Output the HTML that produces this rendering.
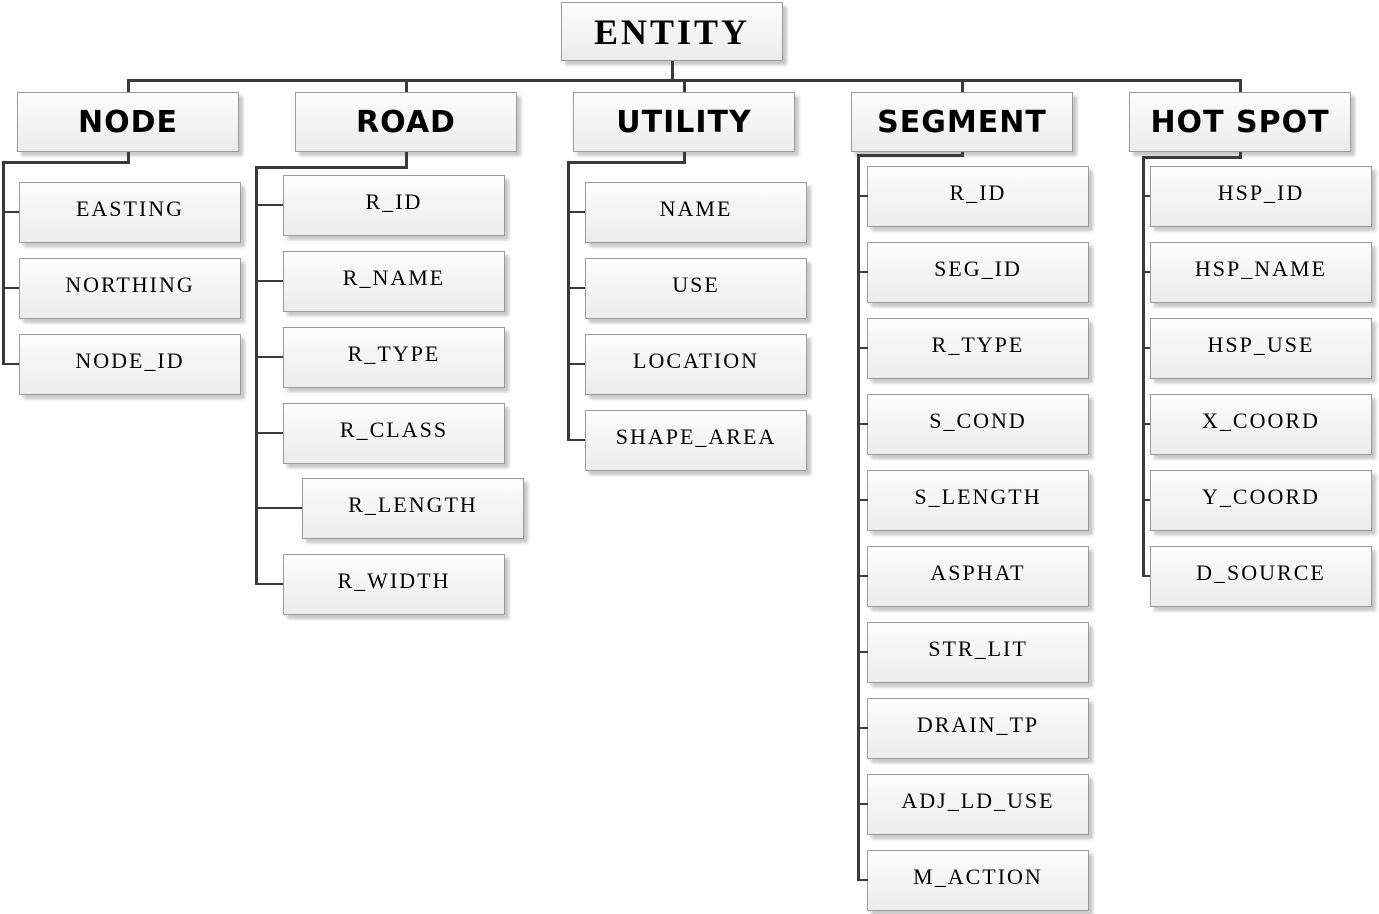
<!DOCTYPE html>
<html><head><style>
body{margin:0;width:1379px;height:914px;background:#fff;position:relative;overflow:hidden}
.b{position:absolute;box-sizing:border-box;border:1.5px solid #9a9a9a;background:linear-gradient(#fdfdfd,#ececec);box-shadow:4px 4px 3px #c8c8c8;display:flex;align-items:center;justify-content:center;padding-bottom:8px;white-space:nowrap}
.h{font:bold 30px "DejaVu Sans",sans-serif;letter-spacing:1px;height:60px;width:222px;padding-bottom:0}
.c{font:22px "Liberation Serif",serif;letter-spacing:2px;height:61px;width:222px}
.l{position:absolute;background:#3a3a3a}
</style></head><body>
<div class="b" style="left:561px;top:2px;width:222px;height:59px;font:bold 36px 'Liberation Serif',serif;letter-spacing:3px;padding:0">ENTITY</div>
<div class="l" style="left:671px;top:61px;width:3px;height:20px"></div>
<div class="l" style="left:127px;top:79px;width:1115px;height:3px"></div>
<div class="l" style="left:127px;top:79px;width:3px;height:13px"></div>
<div class="l" style="left:405px;top:79px;width:3px;height:13px"></div>
<div class="l" style="left:683px;top:79px;width:3px;height:13px"></div>
<div class="l" style="left:961px;top:79px;width:3px;height:13px"></div>
<div class="l" style="left:1239px;top:79px;width:3px;height:13px"></div>
<div class="b h" style="left:17px;top:92px">NODE</div>
<div class="b h" style="left:295px;top:92px">ROAD</div>
<div class="b h" style="left:573px;top:92px">UTILITY</div>
<div class="b h" style="left:851px;top:92px">SEGMENT</div>
<div class="b h" style="left:1129px;top:92px">HOT SPOT</div>
<!-- NODE -->
<div class="l" style="left:127px;top:152px;width:3px;height:11px"></div>
<div class="l" style="left:2px;top:161px;width:128px;height:3px"></div>
<div class="l" style="left:2px;top:161px;width:3px;height:204px"></div>
<div class="l" style="left:2px;top:211px;width:18px;height:2px"></div>
<div class="l" style="left:2px;top:287px;width:18px;height:2px"></div>
<div class="l" style="left:2px;top:363px;width:18px;height:2px"></div>
<div class="b c" style="left:19px;top:182px">EASTING</div>
<div class="b c" style="left:19px;top:258px">NORTHING</div>
<div class="b c" style="left:19px;top:334px">NODE_ID</div>
<!-- ROAD -->
<div class="l" style="left:405px;top:152px;width:3px;height:16px"></div>
<div class="l" style="left:255px;top:166px;width:153px;height:3px"></div>
<div class="l" style="left:255px;top:166px;width:3px;height:419px"></div>
<div class="l" style="left:255px;top:204px;width:29px;height:2px"></div>
<div class="l" style="left:255px;top:280px;width:29px;height:2px"></div>
<div class="l" style="left:255px;top:356px;width:29px;height:2px"></div>
<div class="l" style="left:255px;top:432px;width:29px;height:2px"></div>
<div class="l" style="left:255px;top:507px;width:48px;height:2px"></div>
<div class="l" style="left:255px;top:583px;width:29px;height:2px"></div>
<div class="b c" style="left:283px;top:175px">R_ID</div>
<div class="b c" style="left:283px;top:251px">R_NAME</div>
<div class="b c" style="left:283px;top:327px">R_TYPE</div>
<div class="b c" style="left:283px;top:403px">R_CLASS</div>
<div class="b c" style="left:302px;top:478px">R_LENGTH</div>
<div class="b c" style="left:283px;top:554px">R_WIDTH</div>
<!-- UTILITY -->
<div class="l" style="left:683px;top:152px;width:3px;height:11px"></div>
<div class="l" style="left:567px;top:161px;width:119px;height:3px"></div>
<div class="l" style="left:567px;top:161px;width:3px;height:280px"></div>
<div class="l" style="left:567px;top:211px;width:19px;height:2px"></div>
<div class="l" style="left:567px;top:287px;width:19px;height:2px"></div>
<div class="l" style="left:567px;top:363px;width:19px;height:2px"></div>
<div class="l" style="left:567px;top:439px;width:19px;height:2px"></div>
<div class="b c" style="left:585px;top:182px">NAME</div>
<div class="b c" style="left:585px;top:258px">USE</div>
<div class="b c" style="left:585px;top:334px">LOCATION</div>
<div class="b c" style="left:585px;top:410px">SHAPE_AREA</div>
<!-- SEGMENT -->
<div class="l" style="left:961px;top:152px;width:3px;height:4px"></div>
<div class="l" style="left:857px;top:154px;width:107px;height:3px"></div>
<div class="l" style="left:857px;top:154px;width:3px;height:727px"></div>
<div class="b c" style="left:867px;top:166px">R_ID</div>
<div class="b c" style="left:867px;top:242px">SEG_ID</div>
<div class="b c" style="left:867px;top:318px">R_TYPE</div>
<div class="b c" style="left:867px;top:394px">S_COND</div>
<div class="b c" style="left:867px;top:470px">S_LENGTH</div>
<div class="b c" style="left:867px;top:546px">ASPHAT</div>
<div class="b c" style="left:867px;top:622px">STR_LIT</div>
<div class="b c" style="left:867px;top:698px">DRAIN_TP</div>
<div class="b c" style="left:867px;top:774px">ADJ_LD_USE</div>
<div class="b c" style="left:867px;top:850px">M_ACTION</div>
<div class="l" style="left:857px;top:195px;width:11px;height:2px"></div>
<div class="l" style="left:857px;top:271px;width:11px;height:2px"></div>
<div class="l" style="left:857px;top:347px;width:11px;height:2px"></div>
<div class="l" style="left:857px;top:423px;width:11px;height:2px"></div>
<div class="l" style="left:857px;top:499px;width:11px;height:2px"></div>
<div class="l" style="left:857px;top:575px;width:11px;height:2px"></div>
<div class="l" style="left:857px;top:651px;width:11px;height:2px"></div>
<div class="l" style="left:857px;top:727px;width:11px;height:2px"></div>
<div class="l" style="left:857px;top:803px;width:11px;height:2px"></div>
<div class="l" style="left:857px;top:879px;width:11px;height:2px"></div>
<!-- HOT SPOT -->
<div class="l" style="left:1239px;top:152px;width:3px;height:6px"></div>
<div class="l" style="left:1142px;top:156px;width:100px;height:3px"></div>
<div class="l" style="left:1142px;top:156px;width:3px;height:421px"></div>
<div class="l" style="left:1142px;top:195px;width:9px;height:2px"></div>
<div class="l" style="left:1142px;top:271px;width:9px;height:2px"></div>
<div class="l" style="left:1142px;top:347px;width:9px;height:2px"></div>
<div class="l" style="left:1142px;top:423px;width:9px;height:2px"></div>
<div class="l" style="left:1142px;top:499px;width:9px;height:2px"></div>
<div class="l" style="left:1142px;top:575px;width:9px;height:2px"></div>
<div class="b c" style="left:1150px;top:166px">HSP_ID</div>
<div class="b c" style="left:1150px;top:242px">HSP_NAME</div>
<div class="b c" style="left:1150px;top:318px">HSP_USE</div>
<div class="b c" style="left:1150px;top:394px">X_COORD</div>
<div class="b c" style="left:1150px;top:470px">Y_COORD</div>
<div class="b c" style="left:1150px;top:546px">D_SOURCE</div>
</body></html>
